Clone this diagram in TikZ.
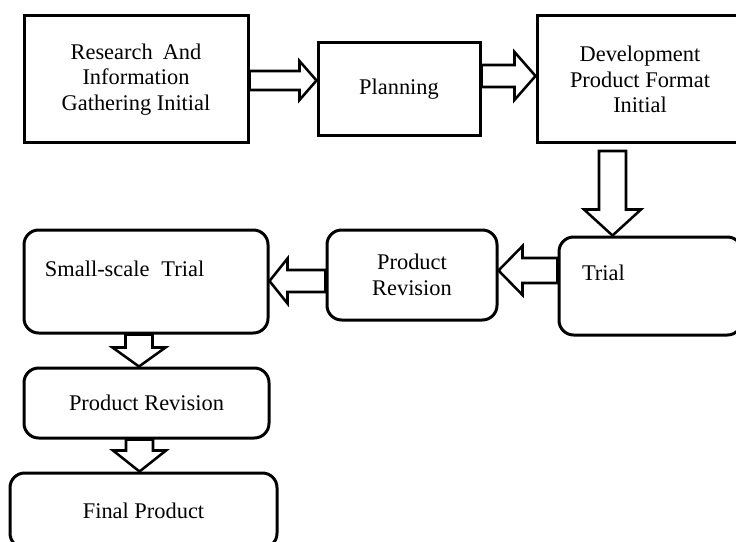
\documentclass[tikz,border=0pt]{standalone}
\usepackage{fontspec}
\setmainfont{Liberation Serif}
\usetikzlibrary{calc}
\tikzset{
  boxbase/.style={draw, line width=2.25pt, inner sep=0pt, align=center,
    font=\fontsize{16.8}{19.2}\selectfont},
  sqbox/.style={boxbase},
  rbox/.style={boxbase, rounded corners=11pt},
  sz/.style 2 args={minimum width=#1*0.75pt, minimum height=#2*0.75pt},
  blockarrow/.style={draw, line width=1.9pt, line join=miter}
}
\newcommand{\harrow}[5]{%
  \draw[blockarrow] ($(#1)+(0,-#3)$) -- ($(#2)+({-(#5)},-#3)$) -- ($(#2)+({-(#5)},-#4)$)
    -- (#2) -- ($(#2)+({-(#5)},#4)$) -- ($(#2)+({-(#5)},#3)$) -- ($(#1)+(0,#3)$) -- cycle;}
\newcommand{\varrow}[5]{%
  \draw[blockarrow] ($(#1)+(-#3,0)$) -- ($(#2)+(-#3,{-(#5)})$) -- ($(#2)+(-#4,{-(#5)})$)
    -- (#2) -- ($(#2)+(#4,{-(#5)})$) -- ($(#2)+(#3,{-(#5)})$) -- ($(#1)+(#3,0)$) -- cycle;}
\begin{document}
\begin{tikzpicture}[x=0.75pt, y=-0.75pt]
\useasboundingbox (0,0) rectangle (736,542);
\clip (0,0) rectangle (736,542);
\fill[white] (0,0) rectangle (736,542);

\node[sqbox, sz={224}{127}] (R) at (136,79.5) {Research\hspace{0.2em} And\\Information\\Gathering Initial};
\node[sqbox, sz={162}{93}] (P) at (399,89.5) {Planning};
\node[sqbox, sz={206}{127}] (D) at (640,79.5) {Development\\Product Format\\Initial};
\node[rbox, sz={183}{98}, align=left, text width=137*0.75pt, inner xsep=23*0.75pt] (T) at (650.5,286) {Trial\\\mbox{}};
\node[rbox, sz={170}{90}] (PR1) at (412,275) {Product\\Revision};
\node[rbox, sz={244}{103}, align=left, text width=202*0.75pt, inner xsep=21*0.75pt] (S) at (146,281.5) {Small-scale\hspace{0.2em} Trial\\\mbox{}};
\node[rbox, sz={245}{70}] (PR2) at (146.5,403) {Product Revision};
\node[rbox, sz={267}{75}] (F) at (143.5,510.5) {Final Product};

% arrows
\coordinate (a1s) at ($(R.east)+(0,1)$);
\coordinate (a1t) at (a1s -| P.west);
\harrow{a1s}{a1t}{9.5}{19.5}{17}

\coordinate (a2s) at ($(P.east |- D.west)+(0,-3.5)$);
\coordinate (a2t) at (a2s -| D.west);
\harrow{a2s}{a2t}{11}{24}{21}

\coordinate (a3s) at (612.5,151);
\coordinate (a3t) at (a3s |- T.north);
\varrow{a3s}{a3t}{13.5}{28.5}{26}

\coordinate (a4s) at ($(T.west)+(0,-15.5)$);
\coordinate (a4t) at (a4s -| PR1.east);
\harrow{a4s}{a4t}{12.5}{24.5}{-24}

\coordinate (a5s) at ($(PR1.west)+(0,6)$);
\coordinate (a5t) at (a5s -| S.east);
\harrow{a5s}{a5t}{11}{22.5}{-18}

\coordinate (a6s) at ($(S.south)+(-7,0)$);
\coordinate (a6t) at (a6s |- PR2.north);
\varrow{a6s}{a6t}{13.5}{26.5}{19}

\coordinate (a7s) at ($(PR2.south)+(-7,0)$);
\coordinate (a7t) at (a7s |- F.north);
\varrow{a7s}{a7t}{13.5}{26.5}{21}
\end{tikzpicture}
\end{document}
